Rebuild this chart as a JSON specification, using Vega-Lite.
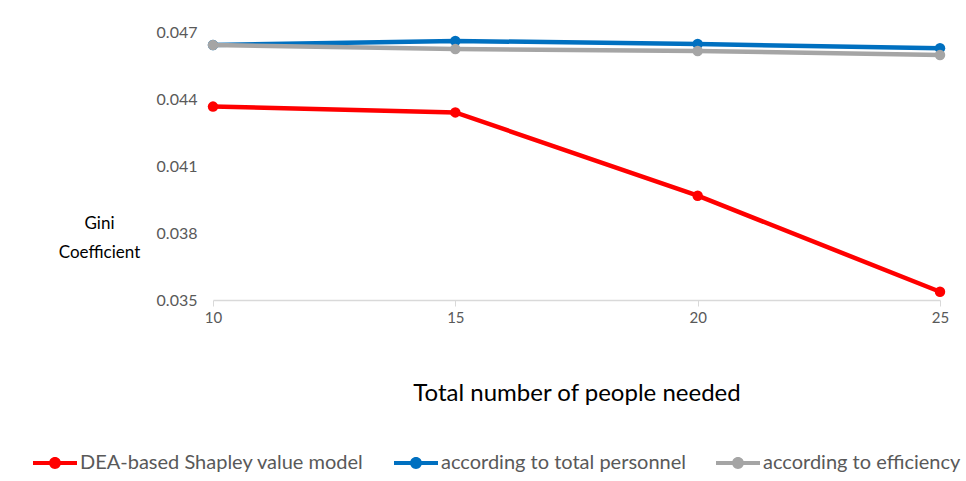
{
  "$schema": "https://vega.github.io/schema/vega-lite/v6.json",
  "autosize": "none",
  "width": 727,
  "height": 268,
  "padding": {"left": 213, "top": 32, "right": 26, "bottom": 181},
  "background": "white",
  "config": {"view": {"stroke": null}, "font": "Lato"},
  "data": {
    "values": [
      {"people": 10, "series": "DEA-based Shapley value model", "gini": 0.04366},
      {"people": 15, "series": "DEA-based Shapley value model", "gini": 0.0434},
      {"people": 20, "series": "DEA-based Shapley value model", "gini": 0.03967},
      {"people": 25, "series": "DEA-based Shapley value model", "gini": 0.03537},
      {"people": 10, "series": "according to total personnel", "gini": 0.04642},
      {"people": 15, "series": "according to total personnel", "gini": 0.0466},
      {"people": 20, "series": "according to total personnel", "gini": 0.04646},
      {"people": 25, "series": "according to total personnel", "gini": 0.04627},
      {"people": 10, "series": "according to efficiency", "gini": 0.04642},
      {"people": 15, "series": "according to efficiency", "gini": 0.04624},
      {"people": 20, "series": "according to efficiency", "gini": 0.04615},
      {"people": 25, "series": "according to efficiency", "gini": 0.04597}
    ]
  },
  "encoding": {
    "x": {
      "field": "people", "type": "quantitative",
      "scale": {"domain": [10, 25], "nice": false, "zero": false},
      "axis": {
        "values": [10, 15, 20, 25], "grid": false, "labelFlush": false,
        "title": "Total number of people needed",
        "titleFont": "Lato", "titleFontSize": 24, "titleFontWeight": "normal", "titleColor": "#000000",
        "titlePadding": 56,
        "labelFont": "Lato", "labelFontSize": 15, "labelColor": "#595959", "labelPadding": 4,
        "domainColor": "#d9d9d9", "domainWidth": 1.5,
        "tickColor": "#d9d9d9", "tickSize": 6, "tickOffset": 0
      }
    },
    "y": {
      "field": "gini", "type": "quantitative",
      "scale": {"domain": [0.035, 0.047], "nice": false, "zero": false},
      "axis": {
        "values": [0.035, 0.038, 0.041, 0.044, 0.047], "format": ".3f",
        "grid": false, "domain": false, "ticks": false,
        "labelFont": "Lato", "labelFontSize": 16, "labelColor": "#595959", "labelPadding": 16,
        "title": ["Gini", "Coefficient"],
        "titleAngle": 0, "titleAlign": "center", "titleBaseline": "top",
        "titleX": -114, "titleY": 183, "titleLineHeight": 29,
        "titleFont": "Lato", "titleFontSize": 17, "titleFontWeight": "normal", "titleColor": "#000000"
      }
    },
    "color": {
      "field": "series", "type": "nominal",
      "scale": {
        "domain": ["DEA-based Shapley value model", "according to total personnel", "according to efficiency"],
        "range": ["#FF0000", "#0070C0", "#A5A5A5"]
      },
      "legend": {
        "title": null, "orient": "none", "direction": "horizontal",
        "legendX": -180, "legendY": 409,
        "symbolType": "M-1,-0.09H1V0.09H-1Z M-0.27,0A0.27,0.27 0 1,1 0.27,0A0.27,0.27 0 1,1 -0.27,0Z",
        "symbolSize": 1936, "symbolStrokeWidth": 0,
        "labelFont": "Lato", "labelFontSize": 20, "labelColor": "#595959", "labelLimit": 0,
        "labelOffset": 3, "columnPadding": 30,
        "encode": {"symbols": {"update": {"fill": {"scale": "color", "field": "value"}, "stroke": {"value": "transparent"}, "strokeWidth": {"value": 0}, "opacity": {"value": 1}}}}
      }
    }
  },
  "layer": [
    {
      "transform": [{"filter": "datum.series !== 'according to efficiency'"}],
      "mark": {"type": "line", "strokeWidth": 4.5, "point": {"filled": true, "size": 110, "opacity": 1}}
    },
    {
      "transform": [{"filter": "datum.series === 'according to efficiency'"}],
      "mark": {"type": "line", "strokeWidth": 4.5, "point": {"filled": true, "size": 110, "opacity": 1}}
    }
  ]
}
